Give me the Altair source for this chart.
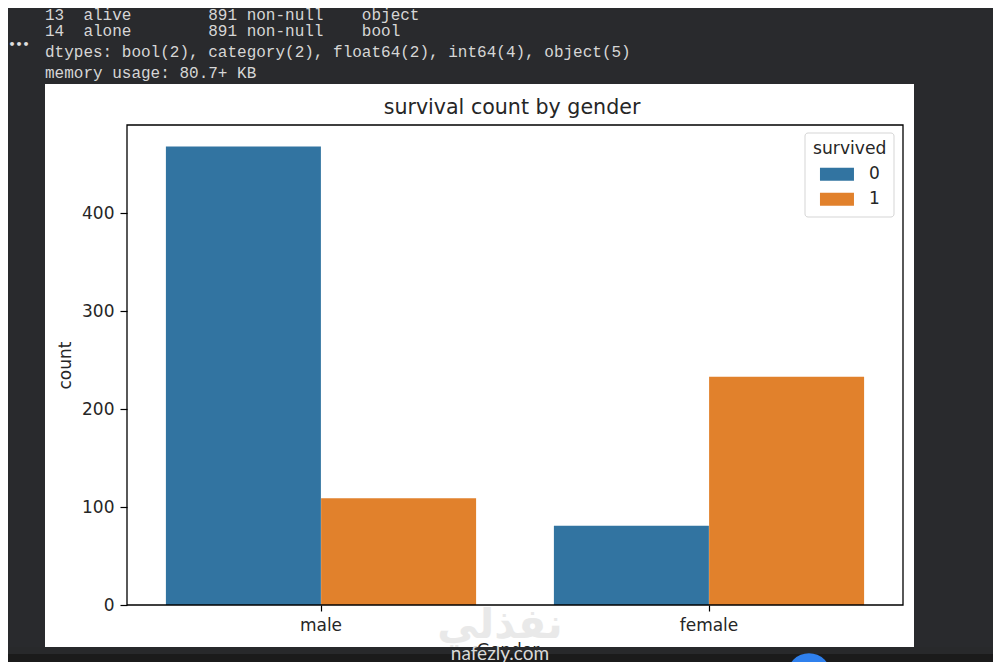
import altair as alt
import pandas as pd

# Data
genders = ["male", "male", "female", "female"]
survived = ["0", "1", "0", "1"]
counts = [468, 109, 81, 233]
gender_order = ["male", "female"]
y_ticks = [0, 100, 200, 300, 400]
colors = ["#3274a1", "#e1812c"]
console_lines = [
    " 13  alive        891 non-null    object",
    " 14  alone        891 non-null    bool",
    "dtypes: bool(2), category(2), float64(2), int64(4), object(5)",
    "memory usage: 80.7+ KB",
]
title_text = "survival count by gender"
x_title = "Gender"
wm_ar = "نفذلي"
wm_en = "nafezly.com"

PAGE = "#292a2d"
OX, OY = 127, 125  # page position of the plot area
one = pd.DataFrame({"a": [1]})


def px(v):
    return alt.value(v - OX)


def py(v):
    return alt.value(v - OY)


def box(x0, x1, y0, y1, **kw):
    return alt.Chart(one).mark_rect(**kw).encode(x=px(x0), x2=px(x1), y=py(y0), y2=py(y1))


def label(s, x, y, **kw):
    return alt.Chart(one).mark_text(text=s, **kw).encode(x=px(x), y=py(y))


def console(s, y, size=16):
    return label(s.replace(" ", "\u00a0"), 45, y, font="Liberation Mono", fontSize=size, color="#d6d6d6",
                 align="left", baseline="alphabetic")


sans = dict(font="DejaVu Sans", color="#262626", align="center", baseline="middle")

panel = box(45, 914, 84, 647, color="#ffffff")

df = pd.DataFrame({"gender": genders, "survived": survived, "count": counts})
bars = alt.Chart(df).mark_bar(size=155).encode(
    x=alt.X(
        "gender:N",
        sort=gender_order,
        scale=alt.Scale(paddingInner=0.2, paddingOuter=0.1),
        axis=alt.Axis(
            title=None, labelAngle=0, labelFont="DejaVu Sans", labelFontSize=17, labelColor="#262626",
            tickColor="#000", tickSize=6, tickWidth=1.2, labelPadding=6, domain=False, grid=False, zindex=1,
        ),
    ),
    xOffset=alt.XOffset("survived:N", sort=["0", "1"], scale=alt.Scale(paddingInner=0, paddingOuter=0)),
    y=alt.Y(
        "count:Q",
        scale=alt.Scale(domain=[0, 490], nice=False),
        axis=alt.Axis(
            title="count", values=y_ticks, labelFont="DejaVu Sans", labelFontSize=17, labelColor="#262626",
            tickColor="#000", tickSize=7, tickWidth=1.2, labelPadding=6, domain=False, grid=False, zindex=1,
            titleFont="DejaVu Sans", titleFontSize=17, titleFontWeight="normal", titleColor="#262626",
            titleX=-53, titleY=240,
        ),
    ),
    color=alt.Color(
        "survived:N",
        scale=alt.Scale(domain=["0", "1"], range=colors),
        legend=alt.Legend(
            orient="none", legendX=686, legendY=15, title="survived", zindex=1,
            titleFont="DejaVu Sans", titleFontSize=17.2, titleFontWeight="normal", titleColor="#262626",
            labelFont="DejaVu Sans", labelFontSize=17, labelColor="#262626",
            symbolType="M-0.59,-0.38H1.41V0.38H-0.59Z", symbolSize=1156, symbolStrokeWidth=0, symbolOpacity=1,
            padding=0, rowPadding=-8, titlePadding=0, labelOffset=22,
        ),
    ),
)

frame = box(127, 903, 125, 605, fillOpacity=0, stroke="#000000", strokeWidth=1.3)
legend_box = box(805, 894, 133, 217, fill="#ffffff", stroke="#d5d5d5", strokeWidth=1, cornerRadius=3)

layers = [
    panel,
    bars,
    frame,
    legend_box,
    label(title_text, 512, 107.5, fontSize=20.6, **sans),
    label(x_title, 508, 651, fontSize=17, **sans),
    label(wm_ar, 500, 626, font="DejaVu Sans", fontSize=41, fontWeight="bold", color="#e9e9e9", align="center", baseline="middle"),
    box(0, 1001, 647, 670, color="#28292b"),
    box(0, 1001, 654, 664, color="#1b1b1b"),
    console(console_lines[0], 20),
    console(console_lines[1], 36),
    console(console_lines[2], 57),
    console(console_lines[3], 78),
    label("•••", 19, 45, font="DejaVu Sans", fontSize=11, fontWeight="bold", color="#e0e0e0", align="center", baseline="middle"),
    label(wm_en, 500, 654, font="Lato", fontSize=19, color="#d9d9d9", align="center", baseline="middle"),
    alt.Chart(one).mark_point(filled=True, color="#2f80ed", opacity=1, size=1900).encode(x=px(809), y=py(675)),
]

chart = alt.layer(*layers).properties(
    width=776,
    height=480,
    padding={"left": 119, "top": 117, "right": 90, "bottom": 57},
    autosize=alt.AutoSizeParams(type="none"),
    background=PAGE,
).configure_view(stroke=None)

chart.save("out.html", embed_options={"renderer": "svg", "actions": False})
